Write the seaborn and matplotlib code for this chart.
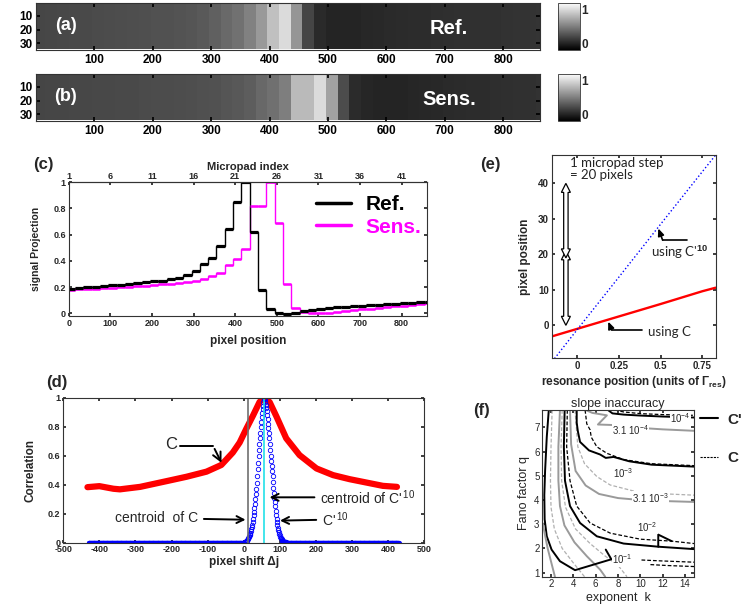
import numpy as np
import pandas as pd
import matplotlib.pyplot as plt
import matplotlib.patches as mpatches
from matplotlib.lines import Line2D
import seaborn as sns

sns.set_theme(style='ticks')
plt.rcParams['font.family'] = ['Liberation Sans', 'DejaVu Sans']
plt.rcParams['mathtext.fontset'] = 'custom'
plt.rcParams['mathtext.rm'] = 'Liberation Sans'
plt.rcParams['mathtext.it'] = 'Liberation Sans:italic'
plt.rcParams['mathtext.bf'] = 'Liberation Sans:bold'
plt.rcParams['axes.unicode_minus'] = False
plt.rcParams['xtick.direction'] = 'in'
plt.rcParams['ytick.direction'] = 'in'
plt.rcParams['xtick.major.size'] = 2.5
plt.rcParams['ytick.major.size'] = 2.5
plt.rcParams['axes.linewidth'] = 0.8
plt.rcParams['axes.edgecolor'] = '#333333'

# (a),(b),(c): signal projection, one value per micropad (20 px wide)
pad_width = 20
pad_offset = -5
ref_proj = [0.187, 0.193, 0.198, 0.203, 0.208, 0.213, 0.218, 0.223, 0.23, 0.236,
            0.243, 0.25, 0.258, 0.268, 0.29, 0.325, 0.375, 0.425, 0.51, 0.64,
            0.85, 1.0, 0.62, 0.18, 0.03, 0.005, -0.003, 0.005, 0.015, 0.025,
            0.033, 0.04, 0.046, 0.051, 0.055, 0.059, 0.063, 0.066, 0.07, 0.073,
            0.077, 0.08, 0.083, 0.086]
sens_proj = [0.18, 0.183, 0.186, 0.189, 0.192, 0.196, 0.199, 0.203, 0.207, 0.212,
             0.216, 0.221, 0.226, 0.232, 0.24, 0.25, 0.265, 0.285, 0.31, 0.37,
             0.415, 0.49, 0.82, 0.82, 1.0, 0.69, 0.22, 0.04, 0.012, 0.0,
             0.0, 0.006, 0.012, 0.018, 0.024, 0.03, 0.036, 0.042, 0.048, 0.053,
             0.058, 0.064, 0.07, 0.076]
image_rows = 34
micropad_ticks = [1, 6, 11, 16, 21, 26, 31, 36, 41]

# (d): correlation vs pixel shift
shift_C = [-433, -400, -361, -343, -287, -213, -158, -103, -62, -30, -11, 7, 26,
           44, 56, 72, 91, 118, 155, 202, 248, 294, 340, 386, 425]
corr_C = [0.383, 0.39, 0.372, 0.368, 0.385, 0.425, 0.455, 0.49, 0.536, 0.622, 0.691,
          0.784, 0.877, 0.97, 1.0, 0.97, 0.87, 0.72, 0.604, 0.512, 0.466, 0.438,
          0.415, 0.392, 0.385]
shift_C10 = np.arange(-430, 430.01, 1.25)
peak_C10 = [0.0, 0.001, 0.002, 0.003, 0.005, 0.007, 0.01, 0.015,
            0.02, 0.025, 0.03, 0.037, 0.045, 0.052, 0.06, 0.07,
            0.08, 0.095, 0.11, 0.125, 0.14, 0.165, 0.19, 0.215,
            0.24, 0.27, 0.30, 0.335, 0.37, 0.415, 0.46, 0.505,
            0.55, 0.595, 0.64, 0.68, 0.72, 0.76, 0.80, 0.835,
            0.87, 0.895, 0.92, 0.945, 0.97, 0.99, 1.0, 0.99,
            0.97, 0.95, 0.93, 0.905, 0.88, 0.85, 0.82, 0.79,
            0.76, 0.72, 0.68, 0.64, 0.60, 0.565, 0.53, 0.495,
            0.46, 0.42, 0.38, 0.345, 0.31, 0.28, 0.25, 0.22,
            0.19, 0.165, 0.14, 0.12, 0.10, 0.087, 0.075, 0.062,
            0.05, 0.042, 0.035, 0.03, 0.025, 0.02, 0.015, 0.012,
            0.01, 0.008, 0.006, 0.005, 0.004, 0.003, 0.002, 0.001,
            0.0]
corr_C10 = np.zeros(len(shift_C10))
corr_C10[(shift_C10 > -0.1) & (shift_C10 < 120.1)] = peak_C10
centroid_C = 12
centroid_C10 = 57

# (e): pixel position vs resonance position
res_pos = [-0.15, 0.0, 0.25, 0.5, 0.75, 0.83]
pix_C = [-3.1, -1.0, 2.5, 6.0, 9.6, 10.6]
pix_C10 = [-10.2, -1.2, 13.6, 28.5, 43.3, 48.0]
micropad_step = 20

# (f): slope inaccuracy contours (exponent k, Fano factor q)
cp_1e4 = [(7.1, 7.72), (7.5, 7.58), (8.5, 7.53), (10.0, 7.49), (12.0, 7.45), (14.8, 7.41)]
cp_3e4 = [(5.1, 7.72), (5.7, 7.6), (7.0, 7.5), (6.2, 7.12), (7.5, 7.1), (10.0, 6.98),
          (12.0, 6.92), (14.8, 6.86)]
cp_1e3 = [(4.3, 7.72), (4.3, 7.2), (4.4, 6.85), (4.6, 6.4), (5.4, 6.05), (6.4, 5.88),
          (6.9, 5.74), (7.6, 5.78), (9.0, 5.6), (11.0, 5.46), (14.8, 5.38)]
cp_3e3 = [(3.7, 7.72), (3.8, 6.3), (4.2, 5.2), (5.1, 4.6), (6.3, 4.25), (8.0, 4.08),
          (10.5, 3.98), (14.8, 3.92)]
cp_1e2 = [(3.22, 7.72), (3.15, 6.2), (3.25, 4.8), (3.7, 3.75), (4.6, 3.05), (6.1, 2.5),
          (8.5, 2.2), (11.6, 2.07), (14.8, 1.97)]
cp_1e2_flag = [(11.6, 2.07), (11.6, 2.57), (12.8, 2.3)]
cp_3e2 = [(2.8, 7.72), (2.66, 6.2), (2.66, 4.8), (2.8, 3.75), (3.2, 2.95), (4.1, 2.25),
          (5.2, 1.68), (6.4, 1.12), (6.85, 0.83)]
cp_1e1 = [(1.8, 7.72), (1.62, 6.6), (1.47, 5.2), (1.4, 4.2), (1.43, 3.2), (1.62, 2.5),
          (2.05, 1.95), (2.8, 1.47), (4.15, 1.1), (7.4, 1.55), (6.9, 1.95)]
cp_3e1 = [(1.25, 3.05), (1.7, 2.0), (2.2, 1.1), (2.35, 0.83)]
c_1e4 = [(7.7, 7.72), (8.5, 7.64), (10.0, 7.57), (12.0, 7.53), (14.8, 7.5)]
c_1e3 = [(5.05, 7.72), (5.2, 7.15), (5.5, 6.9), (5.6, 6.6), (6.1, 6.2), (7.0, 5.93),
         (8.5, 5.67), (11.0, 5.5), (14.8, 5.42)]
c_3e3 = [(4.15, 7.72), (4.4, 6.2), (5.0, 5.5), (6.1, 4.97), (7.3, 4.62), (10.0, 4.3),
         (14.8, 4.2)]
c_1e2 = [(3.46, 7.72), (3.4, 6.2), (3.7, 4.8), (4.3, 3.75), (5.5, 3.05), (7.3, 2.63),
         (10.0, 2.38), (12.8, 2.3), (14.8, 2.2)]
c_3e2 = [(3.0, 7.72), (2.9, 6.2), (2.95, 4.8), (3.3, 3.7), (4.2, 2.8), (5.5, 2.2),
         (6.8, 1.7), (8.0, 1.3), (8.8, 0.83)]
c_3e1 = [(2.1, 7.72), (2.0, 6.2), (1.95, 4.8), (2.0, 3.7), (2.3, 2.8), (3.0, 2.0),
         (4.0, 1.4), (5.0, 0.83)]
c_1e1a = [(10.1, 1.52), (12.0, 1.48), (14.8, 1.43)]
c_1e1b = [(10.9, 1.33), (12.5, 1.29), (14.8, 1.25)]
level_labels = ['$10^{-4}$', '3.1 $10^{-4}$', '$10^{-3}$', '3.1 $10^{-3}$', '$10^{-2}$', '$10^{-1}$']
label_k = [13.6, 9.1, 8.5, 10.9, 10.6, 8.4]
label_q = [7.38, 6.9, 5.1, 4.07, 2.9, 1.55]

W, H = 744, 608
fig = plt.figure(figsize=(W / 100, H / 100), dpi=100)


def px_axes(left, top, right, bottom):
    return fig.add_axes([left / W, 1 - bottom / H, (right - left) / W, (bottom - top) / H])


def bold_ticks(ax, size):
    ax.tick_params(labelsize=size, pad=2, top=True, right=True)
    for lbl in ax.get_xticklabels() + ax.get_yticklabels():
        lbl.set_fontweight('bold')


# ---------- (a) and (b) images ----------
edges = pad_offset + pad_width * np.arange(len(ref_proj) + 1)
for proj, top, name, tag in [(ref_proj, 3, 'Ref.', '(a)'), (sens_proj, 74, 'Sens.', '(b)')]:
    ax = px_axes(35.5, top, 540, top + 46.5)
    img = np.tile(np.array(proj), (image_rows, 1))
    im = ax.imshow(img, cmap='gray', vmin=-0.2, vmax=1.2, aspect='auto',
                   extent=(edges[0], edges[-1], image_rows + 0.5, 0.5), interpolation='nearest')
    ax.set_xlim(-1, 863)
    ax.set_ylim(image_rows + 0.5, 0.5)
    ax.set_xticks(range(100, 801, 100))
    ax.set_yticks([10, 20, 30])
    bold_ticks(ax, 8.5)
    ax.tick_params(colors='black', length=3)
    ax.tick_params(axis='x', pad=3)
    ax.text(0.06, 0.52, tag, transform=ax.transAxes, color='white', fontsize=13,
            fontweight='bold', ha='center', va='center')
    ax.text(0.82, 0.46, name, transform=ax.transAxes, color='white', fontsize=14.5,
            fontweight='bold', ha='center', va='center')
    cax = px_axes(558, top - 0.5, 580, top + 47)
    cb = fig.colorbar(im, cax=cax, ticks=[0, 1])
    cb.outline.set_linewidth(0.6)
    cax.tick_params(labelsize=8.5, length=2, pad=1)
    for lbl in cax.get_yticklabels():
        lbl.set_fontweight('bold')

# ---------- (c) step projections ----------
axc = px_axes(68.7, 182, 426.7, 316)
axc.stairs(sens_proj, edges, baseline=None, color='#ff00ff', lw=1.0)
axc.hlines(sens_proj, edges[:-1], edges[1:], color='#ff00ff', lw=1.8)
axc.stairs(ref_proj, edges, baseline=None, color='black', lw=1.0)
axc.hlines(ref_proj, edges[:-1], edges[1:], color='black', lw=2.3)
axc.set_xlim(0, 860)
axc.set_ylim(-0.02, 1.0)
axc.set_xticks(range(0, 801, 100))
axc.set_yticks([0, 0.2, 0.4, 0.6, 0.8, 1])
axc.set_yticklabels(['0', '0.2', '0.4', '0.6', '0.8', '1'])
bold_ticks(axc, 6.5)
axc.tick_params(top=False)
axc.set_xlabel('pixel position', fontsize=8.5, fontweight='bold', labelpad=5)
axc.set_ylabel('signal Projection', fontsize=7.5, fontweight='bold', labelpad=9)
sec = axc.secondary_xaxis('top', functions=(lambda x: x / pad_width + 1,
                                             lambda i: (i - 1) * pad_width))
sec.set_xticks(micropad_ticks)
sec.tick_params(direction='in', labelsize=6.5, pad=1, length=2.5)
for lbl in sec.get_xticklabels():
    lbl.set_fontweight('bold')
sec.set_xlabel('Micropad index', fontsize=8, fontweight='bold', labelpad=1)
handles = [Line2D([], [], color='black', lw=2.5), Line2D([], [], color='#ff00ff', lw=2.5)]
axc.legend(handles, ['Ref.', 'Sens.'], loc='upper left', bbox_to_anchor=(0.69, 0.9),
           frameon=False, prop={'size': 15, 'weight': 'bold'}, handlelength=1.7,
           handletextpad=0.7, labelspacing=0.15, borderpad=0, borderaxespad=0,
           labelcolor=['black', '#ff00ff'])
fig.text(43 / W, 1 - 165 / H, '(c)', fontsize=12, fontweight='bold', ha='center', va='center')

# ---------- (d) correlation ----------
axd = px_axes(63.3, 397.7, 424, 542.7)
sns.lineplot(x=shift_C, y=corr_C, ax=axd, color='red', lw=4.5, sort=False,
             estimator=None, solid_capstyle='round')
axd.plot(shift_C10, corr_C10, ls='', marker='o', mfc='none', mec='blue', ms=3.2, mew=0.6)
axd.axvline(centroid_C, color='#707070', lw=1.2)
axd.axvline(centroid_C10, color='#22e0e8', lw=1.2)
axd.set_xlim(-500, 500)
axd.set_ylim(0, 1.0)
axd.set_xticks(range(-500, 501, 100))
axd.set_yticks([0, 0.2, 0.4, 0.6, 0.8, 1])
axd.set_yticklabels(['0', '0.2', '0.4', '0.6', '0.8', '1'])
bold_ticks(axd, 6.5)
axd.set_xlabel('pixel shift Δj', fontsize=8.5, fontweight='bold', labelpad=1)
axd.set_ylabel('Correlation', fontsize=8.5, fontweight='bold', labelpad=8)
arr = dict(arrowstyle='->,head_length=0.5,head_width=0.25', color='black', lw=1.4)
axd.text(-200, 0.675, 'C', fontsize=12, ha='center', va='center')
axd.plot([-177, -84], [0.664, 0.664], color='black', lw=1.4)
axd.annotate('', xy=(-58, 0.534), xytext=(-84, 0.664), arrowprops=arr)
axd.annotate("centroid of C'$^{\\,10}$", xy=(64, 0.313), xytext=(213, 0.313),
             fontsize=10, va='center', ha='left', arrowprops=arr)
axd.annotate('centroid  of C', xy=(13, 0.158), xytext=(-127, 0.17),
             fontsize=10, va='center', ha='right', arrowprops=arr)
axd.annotate("C'$^{\\,10}$", xy=(93, 0.152), xytext=(218, 0.16),
             fontsize=10, va='center', ha='left', arrowprops=arr)
fig.text(57 / W, 1 - 382 / H, '(d)', fontsize=12, fontweight='bold', ha='center', va='center')

# ---------- (e) calibration ----------
axe = px_axes(551.7, 155, 716, 358.3)
sns.lineplot(x=res_pos, y=pix_C, ax=axe, color='red', lw=1.7, estimator=None)
sns.lineplot(x=res_pos, y=pix_C10, ax=axe, color='blue', lw=1.0, ls=':', estimator=None)
axe.set_xlim(-0.153, 0.832)
axe.set_ylim(-9.3, 48)
axe.set_xticks([0, 0.25, 0.5, 0.75])
axe.set_xticklabels(['0', '0.25', '0.5', '0.75'])
axe.set_yticks([0, 10, 20, 30, 40])
bold_ticks(axe, 7)
axe.set_ylabel('pixel position', fontsize=8.5, fontweight='bold', labelpad=5)
axe.set_xlabel('resonance position (units of Γ$_{\\bf res}$)', fontsize=8.5,
               fontweight='bold', labelpad=2)

# hollow double arrows, one micropad step each
xr = 0.985 / 164.3
yr = 57.3 / 203.3


def hollow_arrow(ax, x, y0, y1):
    ws, wh, hl = 2.2 * xr, 4.5 * xr, 9 * yr
    pts = [(x - ws, y0 + hl), (x - wh, y0 + hl), (x, y0), (x + wh, y0 + hl), (x + ws, y0 + hl),
           (x + ws, y1 - hl), (x + wh, y1 - hl), (x, y1), (x - wh, y1 - hl), (x - ws, y1 - hl)]
    ax.add_patch(mpatches.Polygon(pts, closed=True, fc='white', ec='black', lw=0.9, zorder=3))


hollow_arrow(axe, -0.068, 0, micropad_step + 1.0)
hollow_arrow(axe, -0.068, micropad_step - 1.0, 2 * micropad_step)
axe.text(-0.045, 47.4, '1 micropad step\n= 20 pixels', fontsize=9.5, family='Lato',
         va='top', ha='left', linespacing=0.95, color='#222222')
arr2 = dict(arrowstyle='-|>,head_length=0.35,head_width=0.15', color='black', lw=1.2,
            shrinkA=0, shrinkB=0)
axe.plot([0.512, 0.656], [24.0, 24.0], color='black', lw=1.2)
axe.annotate('', xy=(0.486, 27.3), xytext=(0.512, 24.0), arrowprops=arr2)
axe.text(0.44, 20.5, "using C'$^{\\bf 10}$", fontsize=9.5, family='Lato', va='center', ha='left')
axe.plot([0.206, 0.386], [-1.3, -1.3], color='black', lw=1.2)
axe.annotate('', xy=(0.186, 1.03), xytext=(0.206, -1.3), arrowprops=arr2)
axe.text(0.426, -1.8, 'using C', fontsize=9.5, family='Lato', va='center', ha='left')
fig.text(490 / W, 1 - 165 / H, '(e)', fontsize=12, fontweight='bold', ha='center', va='center')

# ---------- (f) slope inaccuracy contours ----------
axf = px_axes(542.3, 410, 694, 576.7)
gray = '#9a9a9a'
solid = [(cp_1e4, 'black'), (cp_3e4, gray), (cp_1e3, 'black'), (cp_3e3, gray),
         (cp_1e2, 'black'), (cp_1e2_flag, 'black'), (cp_3e2, gray), (cp_1e1, 'black'),
         (cp_3e1, gray)]
dashed = [(c_1e4, 'black'), (c_1e3, 'black'), (c_3e3, '#b0b0b0'), (c_1e2, 'black'),
          (c_3e2, '#b0b0b0'), (c_3e1, '#b0b0b0'), (c_1e1a, 'black'), (c_1e1b, 'black')]
for pts, col in dashed:
    d = pd.DataFrame(pts, columns=['k', 'q'])
    axf.plot(d['k'], d['q'], color=col, lw=0.9, dashes=(3, 1.6))
for pts, col in solid:
    d = pd.DataFrame(pts, columns=['k', 'q'])
    axf.plot(d['k'], d['q'], color=col, lw=1.4)
for txt, k, q in zip(level_labels, label_k, label_q):
    axf.text(k, q, txt, fontsize=7, ha='center', va='center',
             bbox=dict(fc='white', ec='none', pad=0.3))
axf.set_xlim(1.22, 14.8)
axf.set_ylim(0.83, 7.72)
axf.set_xticks(range(2, 15, 2))
axf.set_yticks(range(1, 8))
axf.tick_params(labelsize=7, pad=2, top=True, right=True)
axf.set_title('slope inaccuracy', fontsize=9, pad=2)
axf.set_xlabel('exponent  k', fontsize=9, labelpad=2)
axf.set_ylabel('Fano factor q', fontsize=9, labelpad=3)
handles = [Line2D([], [], color='black', lw=1.5), Line2D([], [], color='black', lw=0.8, dashes=(2, 1))]
axf.legend(handles, ["C'", 'C'], loc='upper left', bbox_to_anchor=(1.04, 0.985),
           frameon=False, prop={'size': 11, 'weight': 'bold'}, handlelength=1.2,
           handletextpad=0.6, labelspacing=1.6, borderpad=0, borderaxespad=0)
fig.text(482 / W, 1 - 410 / H, '(f)', fontsize=12, fontweight='bold', ha='center', va='center')

fig.savefig('out.png', dpi=100)
